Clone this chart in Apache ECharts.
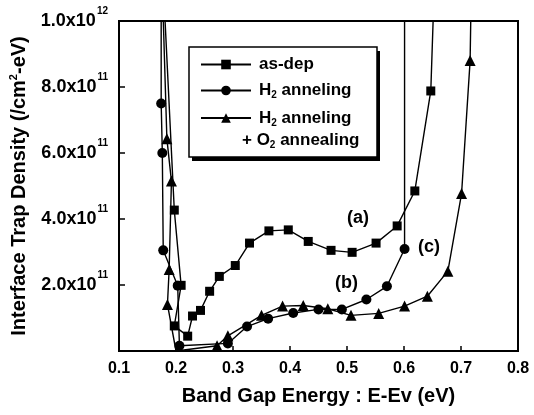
<!DOCTYPE html>
<html><head><meta charset="utf-8">
<script src="https://cdn.jsdelivr.net/npm/echarts@6/dist/echarts.min.js"></script>
<style>html,body{margin:0;padding:0;background:#fff}#c{width:534px;height:415px}</style>
</head><body><div id="c"></div>
<script>
// X ticks (eV) and Y ticks (units of 1e11 /cm^2-eV)
const xTicks = [0.1, 0.2, 0.3, 0.4, 0.5, 0.6, 0.7, 0.8];
const yTickValues = [2, 4, 6, 8, 10];
const yTickMantissa = ['2.0', '4.0', '6.0', '8.0', '1.0'];
const yTickExponent = ['11', '11', '11', '11', '12'];

const seriesNames = ['as-dep', 'H2 anneling', 'H2 anneling + O2 annealing'];

// (a) as-dep — squares
const asDepX = [0.178, 0.197, 0.209, 0.197, 0.2205, 0.229, 0.243, 0.259, 0.276, 0.304, 0.329, 0.363, 0.397, 0.432, 0.472, 0.509, 0.551, 0.588, 0.619, 0.647, 0.653];
const asDepY = [11, 4.27, 1.99, 0.76, 0.45, 1.06, 1.23, 1.81, 2.26, 2.59, 3.27, 3.64, 3.67, 3.32, 3.05, 2.99, 3.27, 3.79, 4.85, 7.88, 11];

// (b) H2 anneling — circles
const h2X = [0.174, 0.174, 0.176, 0.1776, 0.203, 0.206, 0.291, 0.3246, 0.3616, 0.4056, 0.45, 0.491, 0.534, 0.570, 0.601, 0.601];
const h2Y = [11, 7.5, 6.0, 3.05, 1.98, 0.16, 0.23, 0.74, 0.98, 1.15, 1.26, 1.26, 1.56, 1.96, 3.09, 11];

// (c) H2 anneling + O2 annealing — triangles
const o2X = [0.176, 0.184, 0.192, 0.188, 0.185, 0.2, 0.272, 0.291, 0.35, 0.387, 0.4233, 0.4663, 0.507, 0.5556, 0.601, 0.641, 0.677, 0.701, 0.716, 0.718];
const o2Y = [11, 6.43, 5.15, 2.47, 1.41, 0, 0.16, 0.46, 1.08, 1.36, 1.38, 1.28, 1.08, 1.14, 1.36, 1.66, 2.42, 4.77, 8.8, 11];

const Y_MAX = 10;
const FONT = '"Liberation Sans", Arial, Helvetica, sans-serif';

function build(xs, ys) {
  return xs.map((x, i) => {
    const y = ys[i];
    if (y > Y_MAX || y <= 0) return { value: [x, y], symbol: 'none' };
    return { value: [x, y] };
  });
}

const chart = echarts.init(document.getElementById('c'), null, { renderer: 'canvas' });

const mkSeries = (name, xs, ys, symbol, size) => ({
  name, type: 'line', data: build(xs, ys),
  symbol, symbolSize: size,
  itemStyle: { color: '#000' },
  lineStyle: { color: '#000', width: 1.4 },
  clip: true, animation: false
});

const subRich = {
  b: { fontSize: 17, fontWeight: 'bold', fontFamily: FONT, color: '#000', lineHeight: 20 },
  s: { fontSize: 10, fontWeight: 'bold', fontFamily: FONT, color: '#000', verticalAlign: 'bottom', lineHeight: 15 }
};

chart.setOption({
  animation: false,
  backgroundColor: '#fff',
  grid: { left: 119, right: 16, top: 21, bottom: 64, outerBoundsMode: 'none', containLabel: false,
    show: true, borderColor: '#000', borderWidth: 2, backgroundColor: 'transparent' },
  xAxis: {
    type: 'value', min: 0.1, max: 0.8, interval: 0.1,
    name: 'Band Gap Energy : E-Ev (eV)', nameLocation: 'middle', nameGap: 35,
    nameTextStyle: { fontSize: 20, fontWeight: 'bold', fontFamily: FONT, color: '#000' },
    axisLine: { lineStyle: { color: '#000', width: 2 } },
    axisTick: { inside: true, length: 5, lineStyle: { color: '#000', width: 1.5 } },
    splitLine: { show: false },
    axisLabel: { margin: 10, fontSize: 16, fontWeight: 'bold', fontFamily: FONT, color: '#000',
      formatter: v => { const i = xTicks.findIndex(t => Math.abs(t - v) < 1e-6); return i >= 0 ? xTicks[i].toFixed(1) : ''; } }
  },
  yAxis: {
    type: 'value', min: 0, max: 10, interval: 2,
    name: 'Interface Trap Density (/cm{sup|2}-eV)', nameLocation: 'middle', nameGap: 86,
    nameTextStyle: { fontSize: 20, fontWeight: 'bold', fontFamily: FONT, color: '#000',
      rich: { sup: { fontSize: 11, fontWeight: 'bold', fontFamily: FONT, color: '#000', verticalAlign: 'top', lineHeight: 22 } } },
    axisLine: { lineStyle: { color: '#000', width: 2 } },
    axisTick: { inside: true, length: 6, lineStyle: { color: '#000', width: 1.5 } },
    splitLine: { show: false },
    axisLabel: { margin: 11,
      formatter: v => { const i = yTickValues.findIndex(t => Math.abs(t - v) < 1e-6); return i >= 0 ? '{m|' + yTickMantissa[i] + 'x10}{e|' + yTickExponent[i] + '}' : ''; },
      rich: {
        m: { fontSize: 18, fontWeight: 'bold', fontFamily: FONT, color: '#000', lineHeight: 30 },
        e: { fontSize: 10, fontWeight: 'bold', fontFamily: FONT, color: '#000', verticalAlign: 'top', lineHeight: 10, padding: [0, 0, 0, 1] }
      } }
  },
  legend: {
    orient: 'vertical', left: 190, top: 47, padding: [9, 10, 30, 10], itemGap: 9,
    itemWidth: 50, itemHeight: 12, backgroundColor: 'transparent', borderWidth: 0,
    data: seriesNames,
    formatter: name => {
      if (name === seriesNames[0]) return '{b|as-dep}';
      return '{b|H}{s|2}{b| anneling}';
    },
    textStyle: { rich: subRich, padding: [0, 0, 0, 3] }
  },
  graphic: [
    { type: 'rect', shape: { x: 192, y: 51, width: 188, height: 110 }, style: { fill: '#000' }, z: 0 },
    { type: 'rect', shape: { x: 189, y: 47, width: 188, height: 110 }, style: { fill: '#fff', stroke: '#000', lineWidth: 1.5 }, z: 1 },
    { type: 'text', left: 242, top: 132, z: 5, style: { text: '{b|+ O}{s|2}{b| annealing}', rich: subRich } },
    { type: 'text', left: 347, top: 209, z: 5, style: { text: '(a)', font: 'bold 18px ' + FONT, fill: '#000' } },
    { type: 'text', left: 335, top: 274, z: 5, style: { text: '(b)', font: 'bold 18px ' + FONT, fill: '#000' } },
    { type: 'text', left: 418, top: 238, z: 5, style: { text: '(c)', font: 'bold 18px ' + FONT, fill: '#000' } }
  ],
  series: [
    mkSeries(seriesNames[0], asDepX, asDepY, 'rect', 9),
    mkSeries(seriesNames[1], h2X, h2Y, 'circle', 10),
    mkSeries(seriesNames[2], o2X, o2Y, 'triangle', 11)
  ]
});
</script></body></html>
